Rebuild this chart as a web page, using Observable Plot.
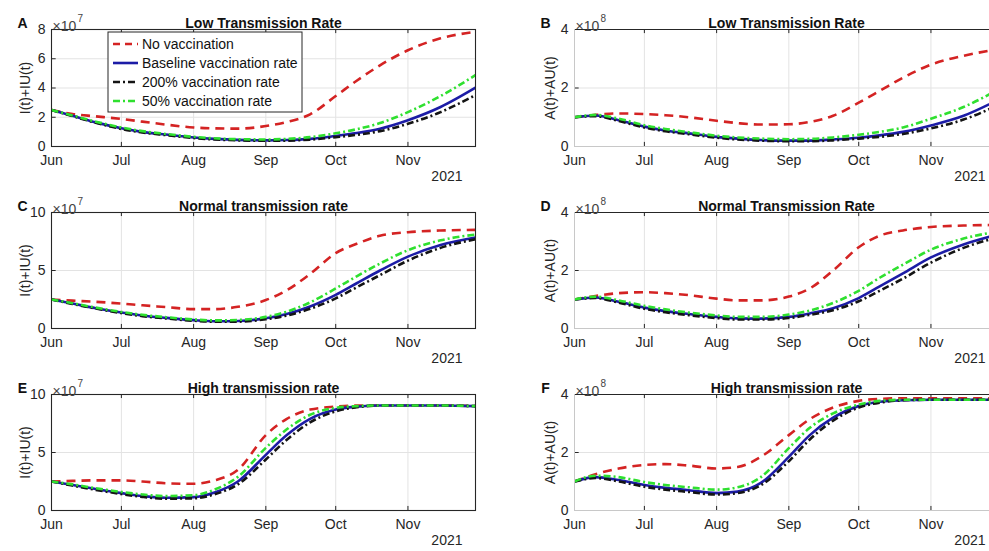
<!DOCTYPE html>
<html>
<head>
<meta charset="utf-8">
<script src="https://cdn.jsdelivr.net/npm/d3@7"></script>
<script src="https://cdn.jsdelivr.net/npm/@observablehq/plot@0.6"></script>
<style>
  body { margin: 0; background: #fff; }
  #fig { position: relative; width: 989px; height: 551px; overflow: hidden; background: #fff;
         font-family: "Liberation Sans", Arial, sans-serif; }
  #fig > svg { position: absolute; }
</style>
</head>
<body>
<div id="fig"></div>
<script>
// Sample dates shared by every panel (2021)
const dates = ["2021-06-01","2021-06-10","2021-06-20","2021-07-01","2021-07-10","2021-07-20",
  "2021-08-01","2021-08-10","2021-08-20","2021-09-01","2021-09-10","2021-09-20",
  "2021-10-01","2021-10-10","2021-10-20","2021-11-01","2021-11-15","2021-11-30"];
const monthTicks = ["2021-06-01","2021-07-01","2021-08-01","2021-09-01","2021-10-01","2021-11-01"];
const scenarios = ["No vaccination", "Baseline vaccination rate", "200% vaccination rate", "50% vaccination rate"];

// A: I(t)+IU(t), low transmission (x10^7)
const lowINone   = [2.5,2.22,2.06,1.88,1.7,1.5,1.3,1.24,1.22,1.4,1.68,2.2,3.45,4.5,5.55,6.58,7.4,7.84];
const lowIBase   = [2.5,2.1,1.65,1.25,1.0,0.82,0.62,0.52,0.45,0.42,0.44,0.52,0.72,0.92,1.22,1.8,2.7,4.02];
const lowIDouble = [2.5,2.08,1.62,1.2,0.96,0.78,0.58,0.48,0.42,0.39,0.4,0.47,0.64,0.8,1.05,1.55,2.35,3.52];
const lowIHalf   = [2.5,2.12,1.7,1.3,1.05,0.86,0.66,0.56,0.5,0.48,0.52,0.64,0.9,1.18,1.6,2.35,3.45,4.88];
// B: A(t)+AU(t), low transmission (x10^8)
const lowANone   = [1.0,1.08,1.13,1.11,1.07,1.0,0.88,0.8,0.75,0.76,0.84,1.05,1.5,1.9,2.35,2.8,3.1,3.33];
const lowABase   = [1.0,1.06,0.9,0.68,0.55,0.45,0.33,0.27,0.22,0.2,0.2,0.24,0.3,0.38,0.5,0.72,1.05,1.6];
const lowADouble = [1.0,1.04,0.87,0.65,0.52,0.42,0.3,0.24,0.2,0.18,0.18,0.21,0.27,0.33,0.43,0.62,0.92,1.42];
const lowAHalf   = [1.0,1.08,0.95,0.73,0.6,0.49,0.37,0.31,0.27,0.25,0.26,0.31,0.4,0.5,0.65,0.95,1.35,1.95];
// C: I(t)+IU(t), normal transmission (x10^7)
const normINone   = [2.5,2.4,2.3,2.15,2.0,1.85,1.67,1.67,1.87,2.45,3.3,4.7,6.5,7.3,8.0,8.3,8.45,8.5];
const normIBase   = [2.5,2.15,1.75,1.38,1.12,0.92,0.72,0.63,0.65,0.88,1.25,1.9,2.9,3.9,5.0,6.2,7.2,7.85];
const normIDouble = [2.5,2.12,1.72,1.33,1.07,0.87,0.67,0.58,0.59,0.8,1.12,1.7,2.6,3.55,4.6,5.85,6.95,7.7];
const normIHalf   = [2.5,2.18,1.8,1.43,1.18,0.98,0.78,0.7,0.74,1.0,1.45,2.25,3.45,4.5,5.6,6.75,7.6,8.1];
// D: A(t)+AU(t), normal transmission (x10^8)
const normANone   = [1.0,1.12,1.22,1.25,1.22,1.15,1.03,0.97,0.97,1.1,1.38,2.0,2.8,3.2,3.38,3.5,3.55,3.57];
const normABase   = [1.0,1.07,0.92,0.72,0.6,0.5,0.4,0.35,0.34,0.4,0.52,0.7,1.05,1.45,1.9,2.45,2.9,3.25];
const normADouble = [1.0,1.05,0.89,0.68,0.56,0.46,0.36,0.31,0.31,0.36,0.47,0.63,0.94,1.3,1.72,2.27,2.78,3.15];
const normAHalf   = [1.0,1.1,0.97,0.78,0.66,0.55,0.45,0.4,0.4,0.48,0.62,0.88,1.3,1.75,2.2,2.72,3.1,3.35];
// E: I(t)+IU(t), high transmission (x10^7)
const highINone   = [2.5,2.55,2.6,2.6,2.5,2.35,2.3,2.6,3.5,6.5,7.9,8.7,8.95,9.05,9.05,9.05,9.05,9.0];
const highIBase   = [2.5,2.2,1.85,1.5,1.25,1.1,1.15,1.55,2.5,4.8,6.5,7.9,8.7,8.95,9.05,9.05,9.05,9.0];
const highIDouble = [2.5,2.15,1.78,1.42,1.17,1.02,1.05,1.4,2.25,4.4,6.1,7.6,8.55,8.9,9.05,9.05,9.05,9.0];
const highIHalf   = [2.5,2.25,1.92,1.6,1.38,1.25,1.32,1.8,2.9,5.4,7.0,8.25,8.85,9.0,9.05,9.05,9.05,9.0];
// F: A(t)+AU(t), high transmission (x10^8)
const highANone   = [1.0,1.25,1.45,1.57,1.6,1.55,1.45,1.5,1.85,2.6,3.15,3.55,3.78,3.85,3.87,3.87,3.87,3.87];
const highABase   = [1.0,1.15,1.05,0.88,0.78,0.7,0.6,0.65,0.95,1.85,2.6,3.2,3.6,3.75,3.8,3.82,3.82,3.82];
const highADouble = [1.0,1.12,1.0,0.82,0.72,0.64,0.55,0.6,0.87,1.7,2.45,3.1,3.55,3.72,3.8,3.82,3.82,3.82];
const highAHalf   = [1.0,1.2,1.15,0.98,0.88,0.8,0.72,0.8,1.15,2.15,2.85,3.35,3.65,3.78,3.82,3.82,3.82,3.82];

// Line styles per scenario, in drawing order
const styles = [
  {stroke: "#d42323", dash: "9,6"},
  {stroke: "#1c1ca6", dash: null},
  {stroke: "#141414", dash: "7,3,2,3"},
  {stroke: "#2fe02f", dash: "7,3,2,3"}
];

const parse = d3.utcParse("%Y-%m-%d");
const xDates = dates.map(parse);
const xTicks = monthTicks.map(parse);
const xDomain = [parse("2021-06-01"), parse("2021-11-30")];
const ink = "#262626";
const font = '"Liberation Sans", Arial, sans-serif';

function panel(cfg) {
  const {letter, title, ylabel, exponent, ymax, yticks, series, left, top, width, height,
         marginLeft, marginRight, marginTop, marginBottom, right, ylabelDx} = cfg;
  const rows = [];
  series.forEach((vals, i) => vals.forEach((v, j) => rows.push({date: xDates[j], value: v, k: i})));
  const tickLen = ymax * 0.035;
  const tickLenX = 2 * 24 * 3600 * 1000;
  const frameMarks = right
    ? [Plot.ruleY([ymax], {stroke: ink, strokeWidth: 1.2}),
       Plot.ruleY([0], {stroke: "#c8c8c8"}),
       Plot.ruleX([xDomain[0]], {stroke: "#c8c8c8"})]
    : [Plot.frame({stroke: ink, strokeWidth: 1.1})];
  const svg = Plot.plot({
    width, height, marginLeft, marginRight, marginTop, marginBottom,
    style: {fontFamily: font, fontSize: "14px", color: ink, background: "transparent", overflow: "visible"},
    x: {type: "utc", domain: xDomain},
    y: {domain: [0, ymax]},
    marks: [
      Plot.gridX(xTicks, {stroke: "#e3e3e3", strokeOpacity: 1}),
      Plot.gridY(yticks, {stroke: "#e3e3e3", strokeOpacity: 1}),
      Plot.ruleX(xTicks, {y1: 0, y2: tickLen, stroke: ink}),
      Plot.ruleX(xTicks, {y1: ymax, y2: ymax - tickLen, stroke: ink}),
      Plot.ruleY(yticks, {x1: xDomain[0], x2: +xDomain[0] + tickLenX, stroke: ink}),
      Plot.axisX(xTicks, {tickSize: 0, tickPadding: 9, tickFormat: d3.utcFormat("%b"), label: null, fontSize: 14, fill: ink}),
      Plot.axisY(yticks, {tickSize: 0, tickPadding: 6, label: null, fontSize: 14, fill: ink}),
      ...styles.map((s, i) => Plot.line(rows.filter(r => r.k === i), {
        x: "date", y: "value", stroke: s.stroke, strokeWidth: 2.6,
        strokeDasharray: s.dash, curve: "monotone-x", strokeLinecap: "butt"
      })),
      ...frameMarks,
      Plot.text([title], {frameAnchor: "top", dy: -11, fontWeight: "bold", fontSize: 14, fill: "#111"}),
      Plot.text([letter], {frameAnchor: "top-left", dx: -29, dy: -11, textAnchor: "middle", fontWeight: "bold", fontSize: 14, fill: "#111"}),
      Plot.text(["\u00d710"], {frameAnchor: "top-left", dx: 1, dy: -8, textAnchor: "start", fontSize: 14, fill: "#444"}),
      Plot.text([exponent], {frameAnchor: "top-left", dx: 26, dy: -15, textAnchor: "start", fontSize: 10, fill: "#444"}),
      Plot.text([ylabel], {frameAnchor: "left", dx: ylabelDx, rotate: -90, textAnchor: "middle", fontSize: 14, fill: ink}),
      Plot.text(["2021"], {frameAnchor: "bottom-right", dx: -13, dy: 34, textAnchor: "end", fontSize: 14, fill: ink})
    ]
  });
  svg.style.left = left + "px";
  svg.style.top = top + "px";
  document.getElementById("fig").appendChild(svg);
}

const leftCol = {left: 0, width: 494, marginLeft: 51, marginRight: 19, ylabelDx: -26};
const rightCol = {left: 495, width: 520, marginLeft: 79, marginRight: 17, right: true, ylabelDx: -24};
const row1 = {top: 0, height: 190, marginTop: 29, marginBottom: 44};
const row2 = {top: 183, height: 182, marginTop: 29, marginBottom: 37};
const row3 = {top: 365, height: 186, marginTop: 29, marginBottom: 41};
const iLabel = "I(t)+IU(t)", aLabel = "A(t)+AU(t)";

panel({...leftCol, ...row1, letter: "A", title: "Low Transmission Rate", ylabel: iLabel, exponent: "7",
       ymax: 8, yticks: [0,2,4,6,8], series: [lowINone, lowIBase, lowIDouble, lowIHalf]});
panel({...rightCol, ...row1, letter: "B", title: "Low Transmission Rate", ylabel: aLabel, exponent: "8",
       ymax: 4, yticks: [0,2,4], series: [lowANone, lowABase, lowADouble, lowAHalf]});
panel({...leftCol, ...row2, letter: "C", title: "Normal transmission rate", ylabel: iLabel, exponent: "7",
       ymax: 10, yticks: [0,5,10], series: [normINone, normIBase, normIDouble, normIHalf]});
panel({...rightCol, ...row2, letter: "D", title: "Normal Transmission Rate", ylabel: aLabel, exponent: "8",
       ymax: 4, yticks: [0,2,4], series: [normANone, normABase, normADouble, normAHalf]});
panel({...leftCol, ...row3, letter: "E", title: "High transmission rate", ylabel: iLabel, exponent: "7",
       ymax: 10, yticks: [0,5,10], series: [highINone, highIBase, highIDouble, highIHalf]});
panel({...rightCol, ...row3, letter: "F", title: "High transmission rate", ylabel: aLabel, exponent: "8",
       ymax: 4, yticks: [0,2,4], series: [highANone, highABase, highADouble, highAHalf]});

// Legend box inside panel A
const leg = d3.select("#fig").append("svg")
  .attr("width", 196).attr("height", 82)
  .style("left", "107px").style("top", "31px");
leg.append("rect").attr("x", 1).attr("y", 1).attr("width", 194).attr("height", 80)
  .attr("fill", "#fff").attr("stroke", ink).attr("stroke-width", 1);
scenarios.forEach((name, i) => {
  const y = 13 + i * 19;
  leg.append("line").attr("x1", 6).attr("x2", 31).attr("y1", y).attr("y2", y)
    .attr("stroke", styles[i].stroke).attr("stroke-width", 2.6)
    .attr("stroke-dasharray", i === 0 ? "7,5" : styles[i].dash);
  leg.append("text").attr("x", 35).attr("y", y).attr("dy", "0.35em")
    .attr("font-family", font).attr("font-size", 14).attr("fill", "#111").text(name);
});
</script>
</body>
</html>
